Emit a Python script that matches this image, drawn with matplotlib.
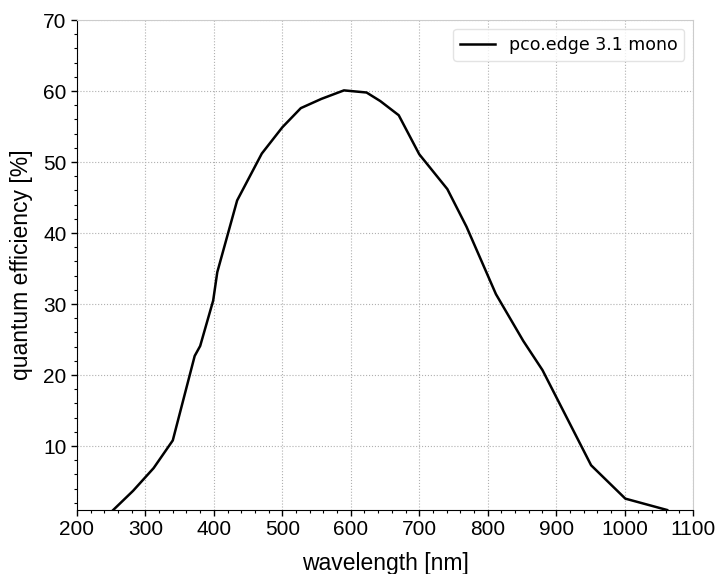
import matplotlib
matplotlib.use("Agg")
import matplotlib.pyplot as plt
from matplotlib.ticker import MultipleLocator

wavelength_nm = [253, 282, 312, 340, 372, 380, 399, 405, 434, 470, 500, 527,
                 557, 590, 623, 643, 670, 700, 741, 769, 812, 852, 880, 951,
                 1001, 1062]
qe_percent = [1.0, 3.7, 6.9, 10.8, 22.7, 24.1, 30.5, 34.5, 44.6, 51.2, 54.9,
              57.6, 58.9, 60.1, 59.8, 58.6, 56.6, 51.1, 46.2, 40.9, 31.4,
              24.8, 20.7, 7.3, 2.6, 1.0]
series_label = "pco.edge 3.1 mono"

fam = ["Liberation Sans", "DejaVu Sans"]

fig = plt.figure(figsize=(7.19, 5.74), dpi=100)
ax = fig.add_axes([0.107, 0.1115, 0.857, 0.8535])

ax.plot(wavelength_nm, qe_percent, color="black", lw=1.8, label=series_label)

ax.set_xlim(200, 1100)
ax.set_ylim(1, 70)
ax.xaxis.set_major_locator(MultipleLocator(100))
ax.xaxis.set_minor_locator(MultipleLocator(20))
ax.set_yticks([10, 20, 30, 40, 50, 60, 70])
ax.yaxis.set_minor_locator(MultipleLocator(2))

ax.tick_params(which="major", direction="out", length=4, width=1, colors="black",
               labelsize=15)
ax.tick_params(which="minor", direction="out", length=2, width=0.8, colors="black")
for lab in ax.get_xticklabels() + ax.get_yticklabels():
    lab.set_fontfamily(fam)
    lab.set_fontsize(15)

ax.set_xlabel("wavelength [nm]", fontfamily=fam, fontsize=16.5, labelpad=9)
ax.set_ylabel("quantum efficiency [%]", fontfamily=fam, fontsize=16.5, labelpad=7)

ax.grid(True, which="major", linestyle=":", color="#b0b0b0", linewidth=0.8)
ax.spines["left"].set_color("black")
ax.spines["bottom"].set_color("black")
ax.spines["top"].set_color("#cccccc")
ax.spines["right"].set_color("#cccccc")

leg = ax.legend(loc="upper right", frameon=True, fancybox=True,
                prop={"family": "DejaVu Sans", "size": 12.5})
leg.get_frame().set_edgecolor("#dddddd")

fig.savefig("out.png", dpi=100)
